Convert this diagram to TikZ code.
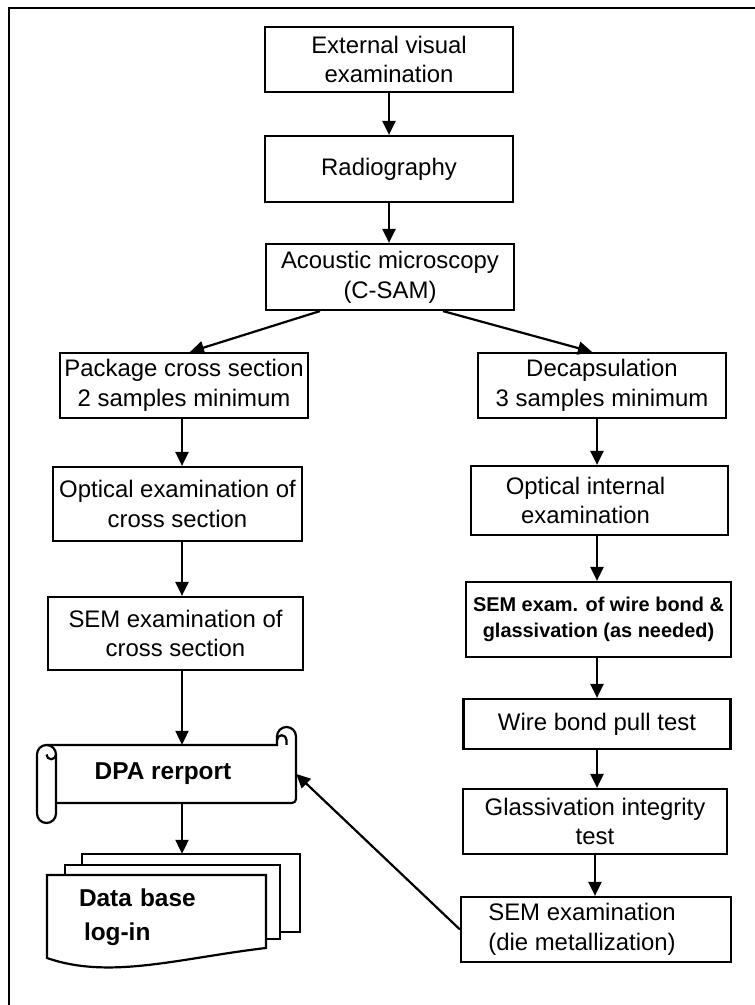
\documentclass[tikz,border=0pt]{standalone}
\usepackage{fontspec}
\setmainfont{Liberation Sans}
\usetikzlibrary{arrows.meta}
\tikzset{
  procbox/.style={draw,line width=2.2bp,inner sep=0pt,align=center,font=\fontsize{24}{30}\selectfont},
  flowline/.style={black,line width=2.2bp,->},
}
\begin{document}
\begin{tikzpicture}[>={Triangle[width=13bp,length=14bp]},line join=miter]
\useasboundingbox (0bp,0bp) rectangle (755bp,1005bp);
%%
\draw [line width=2.4bp] (9bp,-5bp) -- (9bp,997bp) -- (760bp,997bp);
% scroll and page stack
\draw [line width=2.2bp,fill=white] (46.5bp,260bp) -- (277bp,260bp) -- (277bp,268.5bp) arc (180:0:9.5bp) -- (296bp,206bp) arc (0:-90:4bp) -- (56bp,202bp);
\draw [line width=2.2bp] (277bp,265bp) arc (180:0:4.75bp) -- (286.5bp,260bp);
\draw [line width=2.2bp,fill=white] (37bp,250.5bp) -- (37bp,191.5bp) arc (180:360:9.5bp) -- (56bp,250.5bp) arc (0:180:9.5bp) -- cycle;
\draw [line width=2.2bp] (56bp,250.5bp) arc (0:-180:4.75bp);
\draw [line width=2.2bp,fill=white] (82bp,73bp) rectangle (300bp,151bp);
\draw [line width=2.2bp,fill=white] (65bp,66bp) rectangle (280bp,140bp);
\draw [line width=2.2bp,fill=white] (47bp,47bp) -- (47bp,130bp) -- (266bp,130bp) -- (266bp,57bp) .. controls (180bp,47bp) and (110bp,25bp) .. (47bp,47bp) -- cycle;
%
\node (ext) at (389bp,945.5bp) [procbox,minimum width=248bp,minimum height=65bp] {External visual\\examination};
  \node (radio) at (389bp,836bp) [procbox,minimum width=248bp,minimum height=66bp] {Radiography};
  \node (acoustic) at (390bp,728bp) [procbox,minimum width=248bp,minimum height=66bp] {Acoustic microscopy\\(C-SAM)};
  \node (pkg) at (184bp,619.5bp) [procbox,minimum width=248bp,minimum height=65bp] {Package cross section\\2 samples minimum};
  \node (decap) at (602bp,619.5bp) [procbox,minimum width=248bp,minimum height=65bp] {Decapsulation\\ 3 samples minimum};
  \node (optx) at (177.5bp,501bp) [procbox,minimum width=249bp,minimum height=74bp] {Optical examination of\\cross section};
  \node (opti) at (599.5bp,504.5bp) [procbox,minimum width=257bp,minimum height=69bp] {\hspace*{-28bp}Optical internal\\\hspace*{-28bp}examination};
  \node (semx) at (175.5bp,371.5bp) [procbox,minimum width=255bp,minimum height=73bp] {SEM examination of\\cross section};
  \node (semw) at (598.5bp,385.5bp) [procbox,minimum width=265bp,minimum height=75bp,font=\bfseries\fontsize{20}{26}\selectfont] {SEM exam. of wire bond \&\\glassivation (as needed)};
  \node (pull) at (597bp,281bp) [procbox,minimum width=267bp,minimum height=50bp] {Wire bond pull test};
  \node (glass) at (595bp,183.5bp) [procbox,minimum width=264bp,minimum height=65bp] {Glassivation integrity\\test};
  \node (semd) at (596bp,75.5bp) [procbox,minimum width=270bp,minimum height=65bp] {\hspace*{-28bp}SEM examination\\\hspace*{-28bp}(die metallization)};
  \node (dpa) at (182bp,231bp) [draw=none,inner sep=0pt,minimum width=228bp,minimum height=58bp,font=\bfseries\fontsize{24.5}{30}\selectfont] {\hspace*{-38bp}DPA rerport};
  \node (db) at (182bp,87.5bp) [draw=none,inner xsep=13bp,inner ysep=0pt,text width=206bp,align=left,minimum height=127bp,font=\bfseries\fontsize{24.5}{34}\selectfont] {Data base\\\hspace*{5bp}log-in};
%
  \draw [flowline] (ext) -- (radio);
  \draw [flowline] (radio.south) -- (radio.south |- acoustic.north);
  \draw [flowline] ([xshift=-70bp]acoustic.south) -- ([xshift=6bp]pkg.north);
  \draw [flowline] ([xshift=53bp]acoustic.south) -- ([xshift=-10bp]decap.north);
  \draw [flowline] (pkg.south -| dpa) -- (optx.north -| dpa);
  \draw [flowline] (optx.south -| dpa) -- (semx.north -| dpa);
  \draw [flowline] (semx.south -| dpa) -- (dpa.north);
  \draw [flowline] (dpa.south) -- (db.north);
  \draw [flowline] (decap.south -| pull) -- (opti.north -| pull);
  \draw [flowline] (opti.south -| pull) -- (semw.north -| pull);
  \draw [flowline] (semw.south -| pull) -- (pull.north);
  \draw [flowline] (pull.south) -- (pull.south |- glass.north);
  \draw [flowline] (glass.south) -- (glass.south |- semd.north);
  \draw [flowline] (semd.west) -- (dpa.east);
%
\end{tikzpicture}
\end{document}
